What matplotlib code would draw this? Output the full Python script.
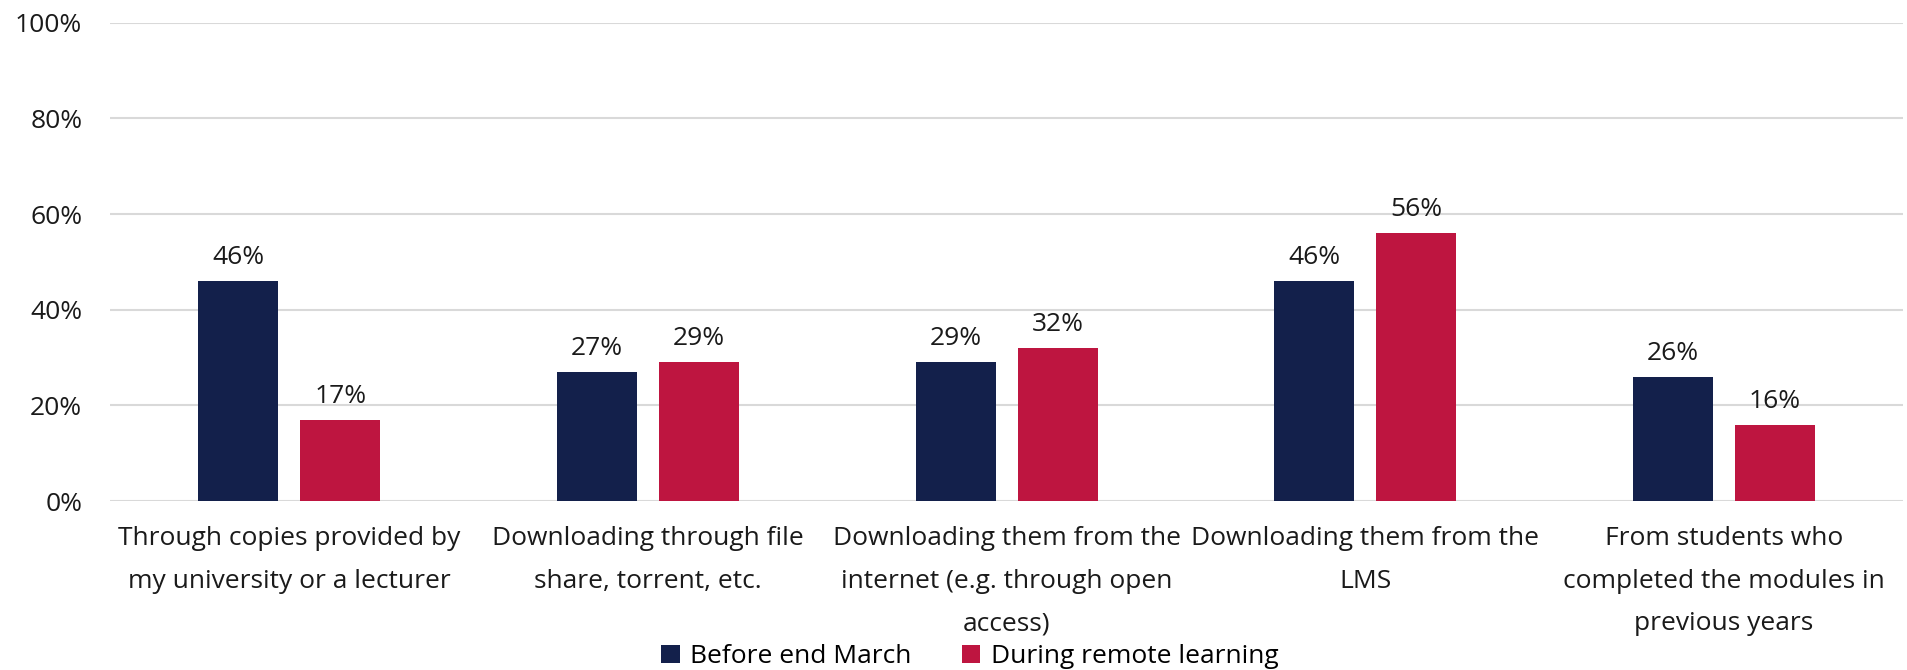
import numpy as np
import matplotlib.pyplot as plt
from matplotlib.ticker import PercentFormatter

plt.rcParams['font.family'] = ['Open Sans', 'DejaVu Sans']

categories = [
    "Through copies provided by\nmy university or a lecturer",
    "Downloading through file\nshare, torrent, etc.",
    "Downloading them from the\ninternet (e.g. through open\naccess)",
    "Downloading them from the\nLMS",
    "From students who\ncompleted the modules in\nprevious years",
]
before_march = [46, 27, 29, 46, 26]
remote_learning = [17, 29, 32, 56, 16]
series_names = ["Before end March", "During remote learning"]

navy = "#13204B"
red = "#BE1540"
grid_col = "#D9D9D9"
txt = "#1a1a1a"

fig = plt.figure(figsize=(19.07, 6.70), dpi=100)
ax = fig.add_axes([0.0577, 0.252, 0.9403, 0.714])

x = np.arange(len(categories))
w = 0.223
off = 0.142
b1 = ax.bar(x - off, before_march, w, color=navy, label=series_names[0], zorder=3)
b2 = ax.bar(x + off, remote_learning, w, color=red, label=series_names[1], zorder=3)

# value labels on top of each bar
for bars, vals in ((b1, before_march), (b2, remote_learning)):
    for rect, v in zip(bars, vals):
        ax.annotate(f"{v}%", (rect.get_x() + rect.get_width() / 2, v),
                    xytext=(0, 8), textcoords="offset points",
                    ha="center", va="bottom", fontsize=19, color=txt)

ax.set_xlim(-0.5, len(categories) - 0.5)
ax.set_ylim(0, 100)
ax.set_yticks(range(0, 101, 20))
ax.yaxis.set_major_formatter(PercentFormatter(decimals=0))
ax.set_xticks(x)
ax.set_xticklabels(categories, fontsize=19, linespacing=1.92, color=txt, va="top")
ax.tick_params(axis="y", length=0, pad=20, labelsize=19, labelcolor=txt)
ax.tick_params(axis="x", length=0, pad=18)
ax.grid(axis="y", color=grid_col, linewidth=1.5, zorder=0)
for s in ax.spines.values():
    s.set_visible(False)

fig.legend(handles=[b1, b2], labels=series_names, loc="lower center",
           bbox_to_anchor=(0.5085, -0.034), ncol=2, frameon=False, fontsize=19,
           handlelength=0.7, handleheight=0.7, handletextpad=0.4, columnspacing=1.9)

fig.savefig("out.png", dpi=100, facecolor="white")
